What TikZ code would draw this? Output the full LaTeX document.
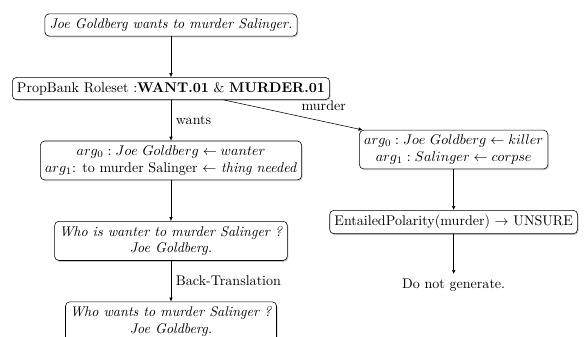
\documentclass[tikz,border=0pt]{standalone}
\usepackage{tikz}
\usetikzlibrary{arrows.meta, positioning, shadows}

\begin{document}
\begin{tikzpicture}[x=0.025cm, y=-0.025cm,
        stepbox/.style={draw, rounded corners=3pt, fill=white, align=center,
            drop shadow={opacity=0.4, shadow xshift=0.7pt, shadow yshift=-0.9pt}},
        rel/.style={-{Latex[length=1mm, width=0.9mm]}, thin}
    ]
        \useasboundingbox (0,0) rectangle (585,336);
        \node[stepbox] (sent) at (171,25) {\textit{Joe Goldberg wants to murder Salinger.}};
        \node[stepbox, below=1.02cm of sent] (roleset) {PropBank Roleset :\textbf{WANT.01} \& \textbf{MURDER.01}};
        \node[stepbox, below=1.02cm of roleset] (wantargs) {$arg_0 : Joe\ Goldberg \leftarrow wanter$\\
            $arg_1$: to murder Salinger $\leftarrow$ \textit{thing needed}};
        \node[stepbox, below=1.02cm of wantargs] (question) {\textit{Who is wanter to murder Salinger ?}\\\textit{Joe Goldberg.}};
        \node[stepbox, below=1.02cm of question] (backq) {\textit{Who wants to murder Salinger ?}\\\textit{Joe Goldberg.}};
        \node[stepbox, below right=0.75cm and 0.73cm of roleset] (murderargs) {$arg_0 : Joe\ Goldberg \leftarrow killer$\\
            $arg_1 : Salinger \leftarrow corpse$};
        \node[stepbox, below=1.02cm of murderargs] (polarity) {EntailedPolarity(murder) $\rightarrow$ UNSURE};
        \node[below=1cm of polarity] (nogen) {Do not generate.};

        \draw[rel] (sent) -- (roleset);
        \draw[rel] (roleset) -- node[right]{wants} (wantargs);
        \draw[rel] (roleset) -- node[pos=0.72, above=4pt]{murder} (murderargs);
        \draw[rel] (wantargs) -- (question);
        \draw[rel] (question) -- node[right]{Back-Translation} (backq);
        \draw[rel] (murderargs) -- (polarity);
        \draw[rel] (polarity) -- (nogen);
    \end{tikzpicture}
\end{document}
